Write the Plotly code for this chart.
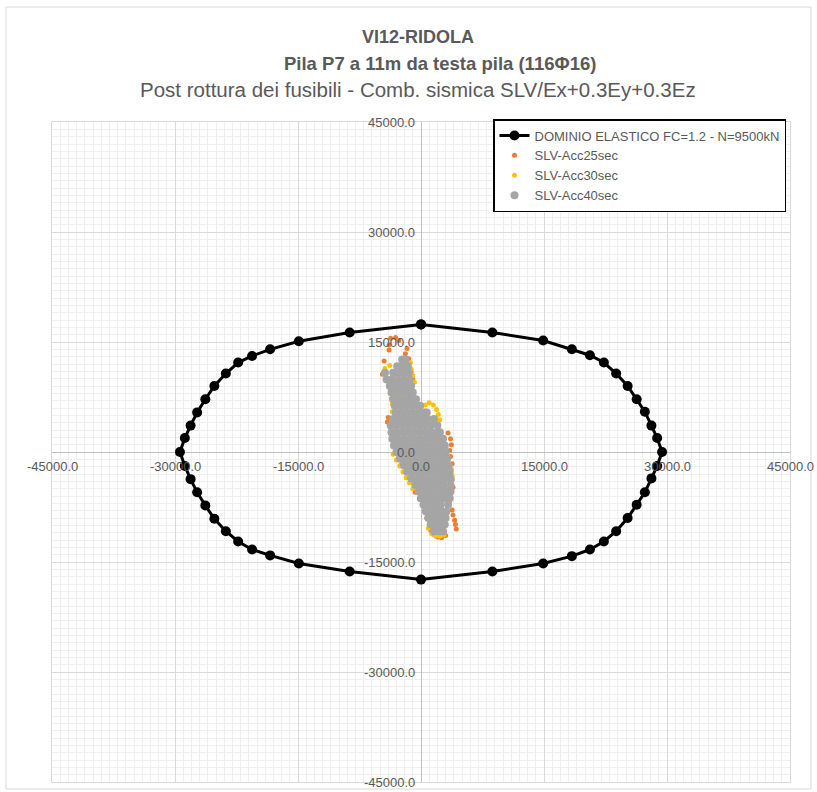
import plotly.graph_objects as go

# ---------------- data ----------------
title_1 = "VI12-RIDOLA"
title_2 = "Pila P7 a 11m da testa pila (116Φ16)"
title_3 = "Post rottura dei fusibili - Comb. sismica SLV/Ex+0.3Ey+0.3Ez"

series_names = ["DOMINIO ELASTICO FC=1.2 - N=9500kN", "SLV-Acc25sec", "SLV-Acc30sec", "SLV-Acc40sec"]

tick_vals = [-45000, -30000, -15000, 0, 15000, 30000, 45000]

dom_x = [0, 8700, 14900, 18400, 20600, 22300, 23800, 25200, 26300, 27300, 28100, 28800, 29400,
         28800, 28100, 27300, 26300, 25200, 23800, 22300, 20600, 18400, 14900, 8700, 0,
         -8700, -14900, -18400, -20600, -22300, -23800, -25200, -26300, -27300, -28100, -28800, -29400,
         -28800, -28100, -27300, -26300, -25200, -23800, -22300, -20600, -18400, -14900, -8700, 0]
dom_y = [17400, 16300, 15200, 14000, 13200, 12200, 10700, 9000, 7200, 5500, 3600, 1900, 0,
         -1900, -3600, -5500, -7200, -9000, -10800, -12200, -13300, -14200, -15200, -16300, -17400,
         -16300, -15200, -14100, -13300, -12200, -10800, -9100, -7300, -5500, -3700, -1900, 0,
         1900, 3600, 5400, 7200, 9000, 10700, 12200, 13100, 14000, 15100, 16300, 17400]

acc25_x = [-3700, -3100, -2700, -3900, -3900, -1700, -1900, -1500, -1600, -1200, -1000, -4700, -4500,
           -4000, -3600, -3200, -4100, -3300, -2600,
           3300, 3600, 3700, 3500, 3600, 3800, 3800, 3900,
           3800, 3900, 4100, 4200, 4300,
           1500, 2000, 2500, 3000,
           400, 700, 1000, 1200, -700, -200]
acc25_y = [15500, 15600, 15200, 14600, 13900, 14100, 13400, 12700, 11900, 10900, 10000, 10600, 12400,
           4700, 4500, 4500, 4100, 1400, 1300,
           2600, 1800, 1000, 200, -600, -1600, -3800, -4800,
           -7900, -8600, -9300, -9900, -10500,
           -11200, -11600, -11700, -11400,
           -8000, -9000, -9900, -10700, -5500, -6400]

acc30_x = [-4400, -4300, -3800, -2400, -1300, -1200, -1000, -800,
           -3600, -3500, -3500,
           500, 1000, 1500, 1900, 2100, 2300, -200,
           -3400, -3000, -2600, -2200, -1800, -1400, -1000, -2400,
           900, 1300, 1800, 2300, 2800,
           3700, 3800, 3700, 3500]
acc30_y = [11400, 10900, 11800, 12000, 12200, 11300, 10400, 9500,
           7300, 6500, 5500,
           6400, 6700, 6400, 5800, 5100, 4400, 5900,
           -300, -1100, -1900, -2700, -3500, -4200, -5000, -1500,
           -10400, -11100, -11500, -11500, -11300,
           -2400, -3200, -5600, -6800]

acc40_x = [-2300, -1900,
           -2900, -2200, -1600,
           -4400, -3400, -2700, -2000, -1500,
           -4200, -3500, -2800, -2100, -1400,
           -3800, -3100, -2400, -1700, -1200,
           -3600, -2900, -2200, -1500, -1000,
           -3400, -2700, -2000, -1300, -600,
           -3200, -2500, -1800, -1100, -400, -100,
           -3100, -2400, -1700, -1000, -300, 400, 700,
           -3400, -2700, -2000, -1300, -600, 100, 800, 1600,
           -3700, -3000, -2300, -1600, -900, -200, 500, 1200, 2000,
           -3600, -2900, -2200, -1500, -800, -100, 600, 1300, 2000, 2300,
           -3500, -2800, -2100, -1400, -700, 0, 700, 1400, 2100, 2700,
           -3300, -2600, -1900, -1200, -500, 200, 900, 1600, 2300, 2900,
           -3000, -2300, -1600, -900, -200, 500, 1200, 1900, 2600, 3000,
           -2600, -1900, -1200, -500, 200, 900, 1600, 2300, 3000, 3200,
           -2100, -1400, -700, 0, 700, 1400, 2100, 2800, 3400,
           -1700, -1000, -300, 400, 1100, 1800, 2500, 3200, 3500,
           -1200, -500, 200, 900, 1600, 2300, 3000, 3600,
           -700, 0, 700, 1400, 2100, 2800, 3600,
           -300, 400, 1100, 1800, 2500, 3200, 3600,
           0, 700, 1400, 2100, 2800, 3500,
           300, 1000, 1700, 2400, 3300,
           600, 1300, 2000, 2600, 3100,
           900, 1600, 2300, 3000,
           1200, 1900, 2500, 2900,
           1600, 2200, 2700]
acc40_y = [12600, 12600,
           11700, 11700, 11700,
           10800, 10800, 10800, 10800, 10800,
           9900, 9900, 9900, 9900, 9900,
           9000, 9000, 9000, 9000, 9000,
           8100, 8100, 8100, 8100, 8100,
           7200, 7200, 7200, 7200, 7200,
           6300, 6300, 6300, 6300, 6300, 6300,
           5400, 5400, 5400, 5400, 5400, 5400, 5400,
           4500, 4500, 4500, 4500, 4500, 4500, 4500, 4500,
           3600, 3600, 3600, 3600, 3600, 3600, 3600, 3600, 3600,
           2700, 2700, 2700, 2700, 2700, 2700, 2700, 2700, 2700, 2700,
           1800, 1800, 1800, 1800, 1800, 1800, 1800, 1800, 1800, 1800,
           900, 900, 900, 900, 900, 900, 900, 900, 900, 900,
           0, 0, 0, 0, 0, 0, 0, 0, 0, 0,
           -900, -900, -900, -900, -900, -900, -900, -900, -900, -900,
           -1800, -1800, -1800, -1800, -1800, -1800, -1800, -1800, -1800,
           -2700, -2700, -2700, -2700, -2700, -2700, -2700, -2700, -2700,
           -3600, -3600, -3600, -3600, -3600, -3600, -3600, -3600,
           -4500, -4500, -4500, -4500, -4500, -4500, -4500,
           -5400, -5400, -5400, -5400, -5400, -5400, -5400,
           -6300, -6300, -6300, -6300, -6300, -6300,
           -7200, -7200, -7200, -7200, -7200,
           -8100, -8100, -8100, -8100, -8100,
           -9000, -9000, -9000, -9000,
           -9900, -9900, -9900, -9900,
           -10800, -10800, -10800]

# ---------------- figure ----------------
TXT = "#595959"
FONT = "Liberation Sans, Arial, sans-serif"

fig = go.Figure()
fig.add_trace(go.Scatter(x=dom_x, y=dom_y, mode="lines+markers", name=series_names[0],
                         legendgroup="g0",
                         line=dict(color="black", width=3),
                         marker=dict(color="black", size=10)))
fig.add_trace(go.Scatter(x=acc25_x, y=acc25_y, mode="markers", name=series_names[1],
                         legendgroup="g1", marker=dict(color="#ED7D31", size=5)))
fig.add_trace(go.Scatter(x=acc30_x, y=acc30_y, mode="markers", name=series_names[2],
                         legendgroup="g2", marker=dict(color="#FFC000", size=5)))
fig.add_trace(go.Scatter(x=acc40_x, y=acc40_y, mode="markers", name=series_names[3],
                         legendgroup="g3", marker=dict(color="#A5A5A5", size=8)))

axis_common = dict(range=[-45000, 45000], tickvals=tick_vals, showticklabels=False, ticks="",
                   showgrid=True, gridcolor="#d9d9d9", gridwidth=1,
                   zeroline=True, zerolinecolor="#bfbfbf", zerolinewidth=1,
                   showline=True, linecolor="#d9d9d9", linewidth=1, mirror=True,
                   minor=dict(dtick=1000, showgrid=True, gridcolor="#efefef", gridwidth=1),
                   fixedrange=True)
fig.update_xaxes(**axis_common)
fig.update_yaxes(**axis_common)

annotations = []
for v in tick_vals:
    annotations.append(dict(x=v, y=0, xref="x", yref="y", text=f"{v:.1f}", showarrow=False,
                            xanchor="center", yanchor="top", yshift=-5,
                            font=dict(family=FONT, size=13, color=TXT)))
    annotations.append(dict(x=0, y=v, xref="x", yref="y", text=f"{v:.1f}", showarrow=False,
                            xanchor="right", yanchor="middle", xshift=-4,
                            font=dict(family=FONT, size=13, color=TXT)))

# plot area 738x660 at (52,122) on a 817x792 page
PW, PH = 738.0, 660.0
annotations += [
    dict(x=(418 - 52) / PW, y=(782 - 37) / PH, xref="paper", yref="paper", text=f"<b>{title_1}</b>",
         showarrow=False, xanchor="center", yanchor="middle", font=dict(family=FONT, size=18, color=TXT)),
    dict(x=(440 - 52) / PW, y=(782 - 63) / PH, xref="paper", yref="paper", text=f"<b>{title_2}</b>",
         showarrow=False, xanchor="center", yanchor="middle", font=dict(family=FONT, size=18.5, color=TXT)),
    dict(x=(418 - 52) / PW, y=(782 - 90) / PH, xref="paper", yref="paper", text=title_3,
         showarrow=False, xanchor="center", yanchor="middle", font=dict(family=FONT, size=20.5, color=TXT)),
]

fig.update_layout(
    width=817, height=792,
    margin=dict(l=52, r=27, t=122, b=10),
    paper_bgcolor="white", plot_bgcolor="white",
    showlegend=True,
    legend=dict(x=(493 - 52) / PW, y=(782 - 119) / PH, xanchor="left", yanchor="top",
                bgcolor="white", bordercolor="black", borderwidth=1.5,
                font=dict(family=FONT, size=13, color=TXT),
                traceorder="grouped", tracegroupgap=0),
    annotations=annotations,
    shapes=[dict(type="rect", xref="paper", yref="paper",
                 x0=(6 - 52) / PW, x1=(811 - 52) / PW, y0=(782 - 789) / PH, y1=(782 - 7) / PH,
                 line=dict(color="#d9d9d9", width=1), fillcolor="rgba(0,0,0,0)", layer="above")],
)

fig.write_html("out.html", config={"displayModeBar": False},
               post_script="document.body.style.margin='0';")
